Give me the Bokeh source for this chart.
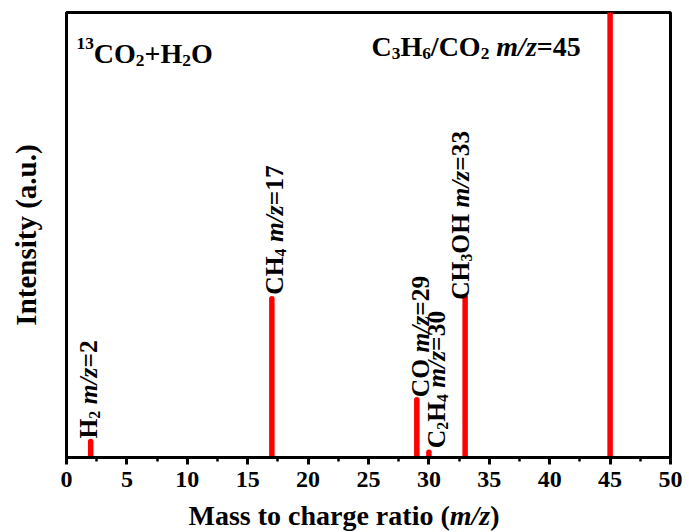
from bokeh.plotting import figure
from bokeh.layouts import column
from bokeh.models import Range1d, Label, FixedTicker, ColumnDataSource
from bokeh.embed import file_html
from bokeh.resources import INLINE

# ---------------- data ----------------
mz = [2, 17, 29, 30, 33, 45]
intensity = [3.6, 35.7, 13.0, 1.2, 36.0, 115.0]
peak_labels = ["H₂ m/z=2", "CH₄ m/z=17", "CO m/z=29", "C₂H₄ m/z=30", "CH₃OH m/z=33", ""]
x_ticks = [0, 5, 10, 15, 20, 25, 30, 35, 40, 45, 50]
note_left = "¹³CO₂+H₂O"
note_right = "C₃H₆/CO₂ m/z=45"
x_title = "Mass to charge ratio (m/z)"
y_title = "Intensity (a.u.)"

# ---------------- style ----------------
FONT = "Liberation Serif"
SUB = {"₀": "0", "₁": "1", "₂": "2", "₃": "3", "₄": "4", "₅": "5", "₆": "6", "₇": "7", "₈": "8", "₉": "9"}
SUP = {"⁰": "0", "¹": "1", "²": "2", "³": "3", "⁴": "4", "⁵": "5", "⁶": "6", "⁷": "7", "⁸": "8", "⁹": "9"}
W_BOLD = {"C": 722, "H": 778, "O": 778, " ": 250, "=": 570, "/": 278, "+": 570, "(": 333, ")": 333,
          ".": 250, "M": 944, "a": 500, "s": 389, "t": 333, "o": 500, "c": 444, "h": 556, "r": 444,
          "g": 500, "e": 444, "i": 278, "m": 833, "z": 444}
W_ITAL = {"m": 778, "/": 278, "z": 389}
BASE_FIX = 8.5  # baseline correction (px)


def runs(text):
    out = []
    i = 0
    while i < len(text):
        if text.startswith("m/z", i):
            out.append(["m/z", "italic"])
            i += 3
            continue
        ch = text[i]
        if ch in SUB:
            kind, c = "sub", SUB[ch]
        elif ch in SUP:
            kind, c = "sup", SUP[ch]
        else:
            kind, c = "normal", ch
        if out and out[-1][1] == kind:
            out[-1][0] += c
        else:
            out.append([c, kind])
        i += 1
    return out


def pieces(text, f):
    res = []
    adv = 0.0
    for txt, kind in runs(text):
        if kind == "italic":
            size, shift, style, tbl = f, 0.0, "bold italic", W_ITAL
        elif kind == "sub":
            size, shift, style, tbl = 0.62 * f, -0.24 * f, "bold", W_BOLD
        elif kind == "sup":
            size, shift, style, tbl = 0.62 * f, 0.36 * f, "bold", W_BOLD
        else:
            size, shift, style, tbl = f, 0.0, "bold", W_BOLD
        w = sum(tbl.get(c, 500) for c in txt) * size / 1000
        res.append((txt, style, size, adv, shift))
        adv += w
    return res, adv


PH = 499
p = figure(width=689, height=PH, output_backend="svg", toolbar_location=None,
           x_range=Range1d(0, 50), y_range=Range1d(0, 100),
           min_border_left=66, min_border_right=19, min_border_top=12, min_border_bottom=42)
p.background_fill_color = "white"
p.border_fill_color = "white"
p.grid.visible = False
p.outline_line_color = "black"
p.outline_line_width = 3

# peaks
p.segment(x0=mz, y0=[0] * len(mz), x1=mz, y1=intensity, line_color="#ff0000",
          line_width=5.5, line_cap="round")

# x axis
xa = p.xaxis[0]
xa.ticker = FixedTicker(ticks=x_ticks, minor_ticks=[v + 2.5 for v in x_ticks[:-1]])
xa.axis_line_width = 3
xa.major_tick_line_width = 3
xa.minor_tick_line_width = 2.5
xa.major_tick_out = 7
xa.major_tick_in = 0
xa.minor_tick_out = 4
xa.minor_tick_in = 0
xa.major_label_text_font = FONT
xa.major_label_text_font_style = "bold"
xa.major_label_text_font_size = "24px"
xa.major_label_text_color = "black"
xa.major_label_standoff = 7

# y axis
ya = p.yaxis[0]
ya.ticker = FixedTicker(ticks=[])
ya.major_tick_out = 0
ya.minor_tick_out = 0
ya.axis_line_width = 3
ya.axis_label = y_title
ya.axis_label_text_font = FONT
ya.axis_label_text_font_style = "bold"
ya.axis_label_text_font_size = "29px"
ya.axis_label_text_color = "black"
ya.axis_label_standoff = 25

# peak labels (vertical)
label_dx = [6, 11.5, 12.5, 16, 3.5, 0]
label_gap = [3, 4, 2.5, 4, -2.5, 0]
FV = 25.5
for i, lab in enumerate(peak_labels):
    if not lab:
        continue
    ps, _ = pieces(lab, FV)
    for txt, style, size, adv, shift in ps:
        p.add_layout(Label(x=mz[i], y=intensity[i], x_offset=label_dx[i] - BASE_FIX - shift,
                           y_offset=label_gap[i] + adv, text=txt, angle=90, angle_units="deg",
                           text_font=FONT, text_font_style=style, text_font_size=f"{size:.1f}px",
                           text_align="left", text_baseline="alphabetic", text_color="black"))

# top notes
FH = 28
for note, x0, base in [(note_left, 10, 49.5), (note_right, 305, 42.5)]:
    ps, _ = pieces(note, FH)
    for txt, style, size, adv, shift in ps:
        p.add_layout(Label(x=0, y=100, x_offset=x0 + adv, y_offset=-base + BASE_FIX + shift, text=txt,
                           text_font=FONT, text_font_style=style, text_font_size=f"{size:.1f}px",
                           text_align="left", text_baseline="alphabetic", text_color="black"))

# strip below the plot for the axis title (shares the x range, so frames line up)
SH = 532 - PH
q = figure(width=689, height=SH, output_backend="svg", toolbar_location=None,
           x_range=p.x_range, y_range=Range1d(0, SH),
           min_border_left=66, min_border_right=19, min_border_top=0, min_border_bottom=0,
           x_axis_type=None, y_axis_type=None)
q.grid.visible = False
q.outline_line_color = None
q.background_fill_color = "white"
q.border_fill_color = "white"

FT = 28
ps, total = pieces(x_title, FT)
src = ColumnDataSource(dict(
    x=[25] * len(ps),
    xo=[-24.5 - total / 2 + adv for _, _, _, adv, _ in ps],
    y=[9 + BASE_FIX + shift for _, _, _, _, shift in ps],
    text=[t for t, _, _, _, _ in ps],
    style=[s for _, s, _, _, _ in ps],
    size=[f"{sz:.1f}px" for _, _, sz, _, _ in ps],
))
q.text(x="x", y="y", x_offset="xo", text="text", source=src, text_font=FONT,
       text_font_style="style", text_font_size="size", text_align="left",
       text_baseline="alphabetic", text_color="black")

layout = column(p, q, spacing=0)
open("out.html", "w").write(file_html(layout, INLINE))
